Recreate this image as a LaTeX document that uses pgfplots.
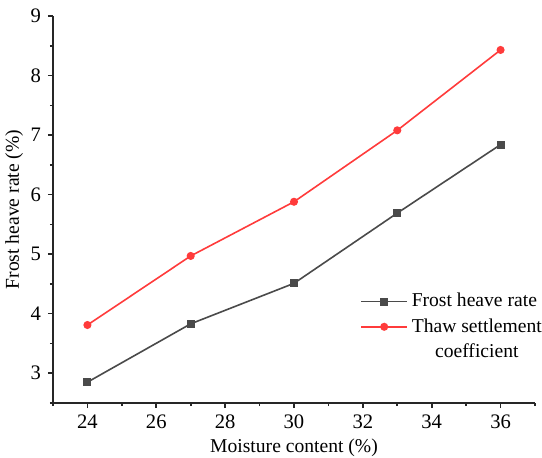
\documentclass[border=0pt]{standalone}
\usepackage{pgfplots}
\pgfplotsset{compat=1.18}
\usepackage{calc}
\usepackage{fontspec}
\setmainfont{Liberation Serif}
\definecolor{fgray}{HTML}{4A4A4A}
\definecolor{tred}{HTML}{FF3B3B}
\begin{document}
\fontsize{9.8}{11.5}\selectfont
\begin{tikzpicture}
\useasboundingbox (-26.5pt,-27pt) rectangle (244.5pt,201.5pt);
\begin{axis}[
  scale only axis,
  width=241pt, height=193.5pt,
  xmin=23, xmax=37, ymin=2.5, ymax=9,
  axis x line*=bottom, axis y line*=left,
  axis line style={line width=0.9pt, black!85},
  xtick={24,26,...,36}, minor xtick={23,25,...,37},
  xticklabels={24,26,28,30,32,34,36},
  ytick={3,4,...,9}, minor ytick={2.5,3.5,...,8.5},
  yticklabels={3,4,5,6,7,8,9},
  tick align=outside,
  major tick length=2.6pt, minor tick length=1.6pt,
  every tick/.style={line width=0.8pt, black!85},
  tick label style={font=\rmfamily\fontsize{10.3}{12}\selectfont},
  label style={font=\rmfamily\fontsize{9.8}{11.5}\selectfont},
  xlabel={Moisture content (\%)},
  ylabel={Frost heave rate (\%)},
  xlabel style={yshift=2pt},
  ylabel style={yshift=-3pt},
  legend style={draw=none, fill=none, at={(rel axis cs:0.625,0.305)}, anchor=north west,
    font=\rmfamily\fontsize{9.8}{11.5}\selectfont, row sep=0.3pt},
  legend cell align=left,
  legend image code/.code={\draw[mark repeat=2,mark phase=2] plot coordinates {(0cm,0cm) (0.4cm,0cm) (0.8cm,0cm)};},
]
\addplot[color=fgray, line width=0.8pt, mark=square*, mark size=1.6pt, mark options={fill=fgray}]
  coordinates {(24,2.85) (27,3.83) (30,4.51) (33,5.69) (36,6.84)};
\addlegendentry{Frost heave rate}
\addplot[color=tred, line width=0.8pt, mark=*, mark size=1.6pt, mark options={fill=tred}]
  coordinates {(24,3.81) (27,4.97) (30,5.88) (33,7.08) (36,8.43)};
\addlegendentry{Thaw settlement}
\addlegendimage{empty legend}
\addlegendentry{\makebox[\widthof{Thaw settlement}][c]{coefficient}}
\end{axis}
\end{tikzpicture}
\end{document}
